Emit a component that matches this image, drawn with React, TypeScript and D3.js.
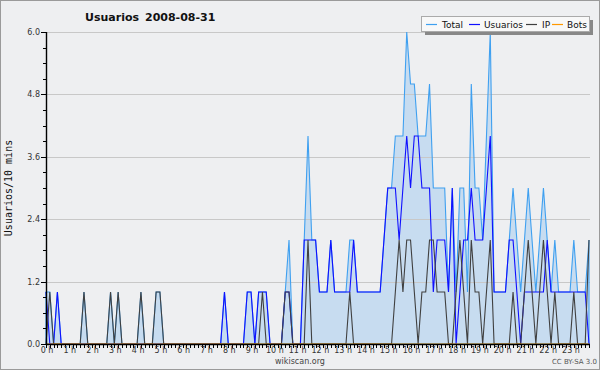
import React from "react";
import * as d3 from "d3";

const hours = d3.range(0, 24);
const hourLabels = hours.map((h) => `${h} h`);
const yTickValues = [0, 1.2, 2.4, 3.6, 4.8, 6.0];

const total = [
  1,1,0,1,0,0,0,0,0,0,1,0,
  0,0,0,0,0,1,0,1,0,0,0,0,
  0,1,0,0,0,1,1,0,0,0,0,0,
  0,0,0,0,0,0,0,0,0,0,0,1,
  0,0,0,0,0,1,1,0,1,1,1,0,
  0,0,0,1,2,0,0,0,2,4,2,2,
  1,1,1,2,1,1,1,1,2,2,1,1,
  1,1,1,1,1,2,3,3,4,4,4,6,
  5,5,4,4,4,5,3,3,3,3,1,3,
  1,3,3,1,5,3,3,2,4,6,1,1,
  1,1,2,3,2,1,2,3,2,1,2,3,
  2,1,2,1,1,1,1,2,1,1,1,2,
];

const usuarios = [
  1,0,0,1,0,0,0,0,0,0,0,0,
  0,0,0,0,0,0,0,0,0,0,0,0,
  0,0,0,0,0,0,0,0,0,0,0,0,
  0,0,0,0,0,0,0,0,0,0,0,1,
  0,0,0,0,0,1,1,0,1,1,1,0,
  0,0,0,1,1,0,0,0,2,2,2,2,
  1,1,1,2,1,1,1,1,1,2,1,1,
  1,1,1,1,1,2,3,3,3,2,3,4,
  3,4,4,3,3,3,1,2,2,2,1,3,
  0,1,2,2,3,2,2,2,3,4,1,1,
  1,1,2,2,1,0,1,1,1,1,1,1,
  2,1,1,1,1,1,1,1,1,1,1,0,
];

const ip = [
  0,1,0,0,0,0,0,0,0,0,1,0,
  0,0,0,0,0,1,0,1,0,0,0,0,
  0,1,0,0,0,1,1,0,0,0,0,0,
  0,0,0,0,0,0,0,0,0,0,0,0,
  0,0,0,0,0,0,0,0,0,1,0,0,
  0,0,0,1,1,0,0,0,0,2,0,0,
  0,0,0,0,0,0,0,0,1,0,0,0,
  0,0,0,0,0,0,0,0,1,2,1,2,
  2,1,0,1,1,2,2,1,1,1,0,0,
  1,2,1,0,2,1,1,0,1,2,0,0,
  0,0,0,1,0,0,1,2,1,0,1,2,
  1,0,1,0,0,0,0,1,0,0,0,2,
];

const bots = total.map(() => 0);

const seriesNames = ["Total", "Usuarios", "IP", "Bots"];
const seriesColors = ["#3fa0f0", "#1010ff", "#404040", "#ff9900"];

export default function App() {
  const W = 600, H = 370;
  const left = 46, right = 589, top = 32, bottom = 344;
  const n = total.length;
  const x = d3.scaleLinear().domain([0, n - 1]).range([left, right]);
  const y = d3.scaleLinear().domain([0, 6]).range([bottom, top]);

  const line = d3.line<number>().x((_, i) => x(i)).y((d) => y(d));
  const area = d3.area<number>().x((_, i) => x(i)).y0(y(0)).y1((d) => y(d));

  const minor = d3.range(0, 6.0001, 0.3);
  const font = "'DejaVu Sans', sans-serif";

  const legendItems = [
    { name: seriesNames[0], color: seriesColors[0], lx: 426, tx: 442 },
    { name: seriesNames[1], color: seriesColors[1], lx: 469, tx: 484 },
    { name: seriesNames[2], color: seriesColors[2], lx: 526, tx: 542 },
    { name: seriesNames[3], color: seriesColors[3], lx: 552, tx: 567 },
  ];

  return (
    <div style={{ position: "fixed", left: 0, top: 0 }}>
      <svg width={W} height={H} style={{ display: "block" }}>
        <rect x={0} y={0} width={W} height={H} fill="#eeeff1" />
        <rect x={0.5} y={0.5} width={W - 1} height={H - 1} fill="none" stroke="#9a9a9a" />

        {/* title */}
        <text x={85} y={21} fontFamily={font} fontWeight="bold" fontSize={11} fill="#111">Usuarios</text>
        <text x={145} y={21} fontFamily={font} fontWeight="bold" fontSize={11} fill="#111">2008-08-31</text>

        {/* area fill */}
        <path d={area(total) || ""} fill="#c7dcf0" stroke="none" />

        {/* gridlines */}
        {yTickValues.slice(1).map((v) => (
          <line key={"g" + v} x1={left} x2={590} y1={Math.round(y(v)) + 0.5} y2={Math.round(y(v)) + 0.5} stroke="#c8c8c8" strokeWidth={1} />
        ))}

        {/* series lines */}
        <path d={area(total) || ""} fill="none" stroke={seriesColors[0]} strokeWidth={1.1} />
        <path d={line(usuarios) || ""} fill="none" stroke={seriesColors[1]} strokeWidth={1.1} />
        <path d={line(ip) || ""} fill="none" stroke={seriesColors[2]} strokeWidth={1.1} />
        <path d={line(bots) || ""} fill="none" stroke={seriesColors[3]} strokeWidth={1.1} />

        {/* y axis */}
        <line x1={left + 0.5} x2={left + 0.5} y1={top} y2={bottom + 1} stroke="#000" strokeWidth={1.4} />
        {minor.map((v, k) => (
          <line key={"m" + k} x1={k % 4 === 0 ? left - 5 : left - 3} x2={left} y1={Math.round(y(v)) + 0.5} y2={Math.round(y(v)) + 0.5} stroke="#000" strokeWidth={1} />
        ))}
        {yTickValues.map((v) => (
          <text key={"yl" + v} x={left - 6} y={y(v) + 3} textAnchor="end" fontFamily={font} fontSize={8} fill="#333">{v.toFixed(1)}</text>
        ))}
        <text transform={`translate(12,188) rotate(-90)`} textAnchor="middle" fontFamily="'DejaVu Sans Mono', monospace" fontSize={10} fill="#111">Usuarios/10 mins</text>

        {/* x axis */}
        <line x1={left} x2={590} y1={bottom + 0.5} y2={bottom + 0.5} stroke="#000" strokeWidth={1.4} />
        {d3.range(0, n).map((i) => (
          <line key={"xt" + i} x1={Math.round(x(i)) + 0.5} x2={Math.round(x(i)) + 0.5} y1={bottom} y2={bottom + 4} stroke="#000" strokeWidth={1} />
        ))}
        {hours.map((h, k) => (
          <text key={"xl" + h} x={x(h * 6) + 1} y={353} textAnchor="middle" fontFamily={font} fontSize={8} fill="#333">{hourLabels[k]}</text>
        ))}

        {/* legend */}
        <rect x={425} y={20} width={168} height={15} fill="#888" />
        <rect x={421.5} y={16.5} width={168} height={15} fill="#f8f8f8" stroke="#aaa" />
        {legendItems.map((it) => (
          <g key={it.name}>
            <line x1={it.lx} x2={it.lx + 11} y1={24.5} y2={24.5} stroke={it.color} strokeWidth={1.2} />
            <text x={it.tx} y={28} fontFamily={font} fontSize={9} fill="#111">{it.name}</text>
          </g>
        ))}

        {/* footer */}
        <text x={300} y={364} textAnchor="middle" fontFamily={font} fontSize={8} fill="#444">wikiscan.org</text>
        <text x={597} y={364} textAnchor="end" fontFamily={font} fontSize={7} fill="#555">CC BY-SA 3.0</text>
      </svg>
    </div>
  );
}
